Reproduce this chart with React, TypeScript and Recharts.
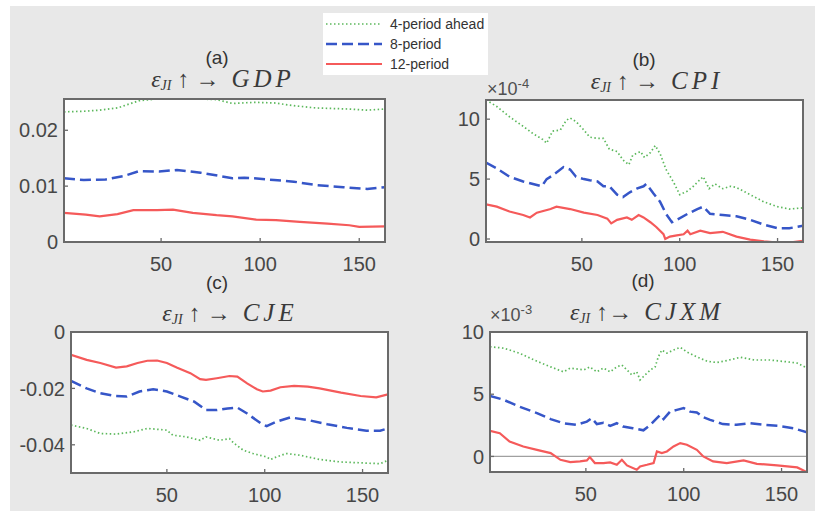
import React from 'react';
import { LineChart, Line, XAxis, YAxis, ReferenceLine, CartesianGrid } from 'recharts';

type P = [number, number];

const xDomain: [number, number] = [1, 163];
const xTicks = [50, 100, 150];
const seriesNames = ['4-period ahead', '8-period', '12-period'];

// (a) GDP
const gdp4: P[] = [[1,0.0233],[11,0.0234],[19,0.0236],[28,0.0240],[33,0.0246],[39,0.0253],[48,0.0256],[61,0.0257],[78,0.0255],[86,0.0248],[97,0.0250],[107,0.0249],[117,0.0244],[128,0.0240],[145,0.0238],[154,0.0236],[163,0.0238]];
const gdp8: P[] = [[1,0.0114],[11,0.0111],[22,0.0112],[31,0.0118],[39,0.0127],[49,0.0126],[58,0.0129],[70,0.0124],[80,0.0118],[86,0.0114],[92,0.0115],[97,0.0114],[107,0.0111],[117,0.0108],[128,0.0102],[142,0.0098],[154,0.0095],[163,0.0098]];
const gdp12: P[] = [[1,0.0052],[12,0.0049],[19,0.0046],[28,0.0050],[36,0.0057],[48,0.0057],[56,0.0058],[66,0.0052],[78,0.0048],[86,0.0046],[98,0.0040],[108,0.0039],[120,0.0036],[134,0.0033],[145,0.0030],[150,0.0027],[163,0.0028]];
const gdpTicks = [0, 0.01, 0.02];
const gdpDomain: [number, number] = [0, 0.0256];

// (b) CPI, in units of 1e-4
const cpi4: P[] = [[1,11.6],[6.5,11.06],[13,10.2],[20,9.4],[25,8.8],[30,8.3],[32,8.0],[35,9.0],[39,9.1],[42,9.9],[44,10.1],[47,9.8],[51,9.1],[54,8.5],[58,8.4],[61,8.4],[64,7.5],[68,7.3],[71,6.6],[74,6.2],[76,7.0],[80,7.3],[82,6.8],[85,7.2],[87.5,7.8],[90,7.1],[93,5.8],[97,4.7],[100,3.7],[104,4.0],[107,4.4],[110,4.9],[112,5.2],[115,4.2],[118,4.6],[122,4.2],[126,4.4],[129,4.3],[136,3.7],[143,3.1],[150,2.7],[156,2.5],[163,2.6]];
const cpi8: P[] = [[1,6.37],[6.5,5.9],[13,5.2],[20,4.8],[27,4.5],[29.5,4.4],[32,5.0],[35,5.3],[40.6,6.0],[44,5.8],[47,5.2],[51,5.0],[54,4.9],[58,4.8],[61,4.4],[64,4.4],[68,3.7],[71,3.5],[74.5,3.9],[78,4.2],[81.5,4.4],[83,4.6],[86.6,3.8],[90,3.1],[93,2.1],[96,1.4],[98.5,1.6],[104,2.1],[109,2.5],[112,2.7],[115.5,2.1],[122,2.0],[129,1.9],[136,1.6],[143,1.2],[150,0.9],[156,0.9],[163,1.1]];
const cpi12: P[] = [[1,2.9],[6.5,2.7],[13,2.3],[20,2.0],[23.5,1.8],[27,2.2],[34,2.5],[37,2.7],[44,2.5],[51,2.2],[58,2.0],[63,1.7],[65,1.3],[68,1.6],[73,1.8],[75.5,1.6],[79,2.0],[81.5,1.8],[85,1.4],[88,1.0],[91.7,0.4],[92.6,0.0],[95,0.2],[98.5,0.3],[102,0.4],[104,0.7],[105.4,0.4],[110.5,0.7],[115.5,0.5],[122,0.6],[129,0.2],[136,-0.05],[143,-0.2],[150,-0.3],[156,-0.3],[163,-0.15]];
const cpiTicks = [0, 5, 10];
const cpiDomain: [number, number] = [-0.25, 11.6];
const cpiExponent = '-4';

// (c) CJE
const cje4: P[] = [[1,-0.0330],[9,-0.0342],[16,-0.0360],[24,-0.0362],[33,-0.0354],[40,-0.0342],[50,-0.0348],[53,-0.0366],[60,-0.0372],[67,-0.0384],[70,-0.0372],[77,-0.0384],[82,-0.0378],[84,-0.0393],[89,-0.0419],[94,-0.0431],[101,-0.0443],[103,-0.0452],[106,-0.0443],[111,-0.0431],[118,-0.0437],[128,-0.0452],[139,-0.0461],[149,-0.0464],[159,-0.0467],[163,-0.0455]];
const cje8: P[] = [[1,-0.0173],[9,-0.0200],[16,-0.0217],[24,-0.0227],[29.5,-0.0229],[36,-0.0211],[43,-0.0203],[50,-0.0211],[57,-0.0229],[64,-0.0247],[70,-0.0277],[75.5,-0.0277],[81,-0.0271],[86,-0.0268],[91,-0.0289],[98,-0.0324],[101,-0.0334],[106,-0.0318],[113,-0.0303],[122,-0.0312],[132,-0.0327],[142,-0.0340],[152,-0.0350],[159,-0.0350],[163,-0.0342]];
const cje12: P[] = [[1,-0.0081],[9,-0.0099],[16,-0.0110],[24,-0.0126],[29.5,-0.0122],[35,-0.0110],[40,-0.0102],[45,-0.0101],[50,-0.0110],[55,-0.0126],[62,-0.0146],[67,-0.0167],[70,-0.0170],[75.5,-0.0164],[82,-0.0156],[86,-0.0158],[91,-0.0182],[96,-0.0203],[99,-0.0211],[103,-0.0208],[108,-0.0196],[115,-0.0191],[122,-0.0194],[128,-0.0200],[139,-0.0215],[149,-0.0227],[157,-0.0232],[163,-0.0221]];
const cjeTicks = [-0.04, -0.02, 0];
const cjeDomain: [number, number] = [-0.05, 0];

// (d) CJXM, in units of 1e-3
const cjxm4: P[] = [[1,8.82],[8,8.7],[16,8.3],[25,7.65],[32,7.2],[38.5,6.8],[42,7.1],[49,6.95],[52,7.2],[55.6,6.8],[59,7.1],[62.4,6.8],[65.8,7.2],[68.4,7.35],[71,6.95],[73.5,6.55],[76,6.8],[77.7,6.15],[80.3,6.55],[83,6.95],[85.4,7.2],[87,8.0],[88.8,8.55],[91.4,8.3],[94.8,8.55],[98.2,8.77],[101.6,8.4],[106.7,8.0],[112,7.65],[117,7.55],[122,7.7],[129,7.97],[136,7.75],[144,7.75],[153,7.6],[158,7.5],[163,7.1]];
const cjxm8: P[] = [[1,4.87],[8,4.55],[16,4.0],[25,3.48],[32,3.0],[38.5,2.67],[45,2.54],[50.5,2.8],[53,3.07],[55.6,2.6],[59,2.7],[62.4,2.46],[65.8,2.67],[69,2.4],[74,2.27],[79.4,2.1],[83,2.54],[86.3,3.07],[88,3.34],[89.7,3.0],[93,3.6],[96.5,3.74],[100,3.88],[103.3,3.6],[106.7,3.53],[110,3.15],[113.5,2.94],[120,2.6],[127,2.54],[134,2.67],[141,2.54],[148,2.46],[156,2.27],[163,1.93]];
const cjxm12: P[] = [[1,2.06],[6,1.87],[11,1.2],[18,0.8],[25,0.53],[32,0.27],[37,-0.27],[42,-0.45],[47,-0.4],[50.5,-0.32],[52,-0.05],[54.6,-0.53],[59,-0.53],[62.4,-0.48],[65.8,-0.67],[68.4,-0.27],[71,-0.72],[76,-1.07],[77.7,-0.8],[81.2,-0.67],[84.6,-0.53],[86.3,0.4],[88.8,0.27],[91.4,0.4],[94.8,0.8],[98.2,1.07],[101.6,0.94],[106.7,0.53],[110,0.0],[115,-0.4],[122,-0.53],[130.6,-0.32],[137.4,-0.59],[147.7,-0.72],[158,-0.88],[163,-1.26]];
const cjxmTicks = [0, 5, 10];
const cjxmDomain: [number, number] = [-1.25, 10];
const cjxmExponent = '-3';

const colors = ['#5cb85c', '#3656c8', '#f55a5a'];
const dashes = ['1.5 2.5', '11 5', undefined];
const widths = [1.7, 2.5, 2.2];

const toRows = (pts: P[]) => pts.map(([x, y]) => ({ x, y }));

const AXIS = '#6a6a6a';
const TICK_TEXT = { fill: '#474747', fontSize: 20, fontFamily: '"Liberation Sans", Arial, sans-serif' };

type PanelProps = {
  plotLeft: number; plotTop: number; plotW: number; plotH: number;
  domain: [number, number]; ticks: number[];
  series: P[][]; fmt: (v: number) => string; zeroLine?: boolean;
};

function Panel({ plotLeft, plotTop, plotW, plotH, domain, ticks, series, fmt, zeroLine }: PanelProps) {
  const W = plotW + 65;
  const H = plotH + 55;
  return (
    <>
      <div style={{ position: 'absolute', left: plotLeft - 60, top: plotTop - 15 }}>
        <LineChart width={W} height={H} margin={{ top: 15, right: 5, left: 0, bottom: 0 }}>
          <CartesianGrid fill="#ffffff" horizontal={false} vertical={false} />
          <XAxis type="number" dataKey="x" domain={xDomain} ticks={xTicks} allowDataOverflow
            height={40} axisLine={false} tickSize={-4} tickMargin={19}
            tick={TICK_TEXT} tickLine={{ stroke: AXIS, strokeWidth: 1.3 }} />
          <YAxis type="number" domain={domain} ticks={ticks} allowDataOverflow width={60}
            axisLine={false} tickSize={-4} tickMargin={10} tick={TICK_TEXT}
            tickLine={{ stroke: AXIS, strokeWidth: 1.3 }} tickFormatter={fmt} interval={0} />
          {zeroLine && <ReferenceLine y={0} stroke="#a0a0a0" strokeWidth={1.3} />}
          {series.map((s, i) => (
            <Line key={i} data={toRows(s)} dataKey="y" type="linear" stroke={colors[i]}
              strokeWidth={widths[i]} strokeDasharray={dashes[i]} dot={false}
              isAnimationActive={false} />
          ))}
        </LineChart>
      </div>
      <div style={{ position: 'absolute', left: plotLeft - 1, top: plotTop - 1, width: plotW + 2, height: plotH + 2,
        boxSizing: 'border-box', border: `2px solid ${AXIS}`, pointerEvents: 'none' }} />
    </>
  );
}

const serif = '"Liberation Serif", "DejaVu Serif", serif';

function Title({ cx, cy, target, tight }: { cx: number; cy: number; target: string; tight?: boolean }) {
  return (
    <div style={{ position: 'absolute', left: cx - 150, width: 300, top: cy - 14, height: 28, lineHeight: '28px',
      textAlign: 'center', fontFamily: serif, fontSize: 24, color: '#3a3a3a', whiteSpace: 'pre' }}>
      <i>ε</i><i style={{ fontSize: 14, position: 'relative', top: 3 }}>JI</i>
      {tight ? ' ↑→  ' : ' ↑ →  '}
      <i style={{ letterSpacing: 4, fontSize: 25 }}>{target}</i>
    </div>
  );
}

function Letter({ cx, cy, text }: { cx: number; cy: number; text: string }) {
  return (
    <div style={{ position: 'absolute', left: cx - 30, width: 60, top: cy - 11, height: 22, lineHeight: '22px',
      textAlign: 'center', fontFamily: '"Liberation Sans", Arial, sans-serif', fontSize: 19, color: '#333' }}>
      {text}
    </div>
  );
}

function Exponent({ left, top, exp }: { left: number; top: number; exp: string }) {
  return (
    <div style={{ position: 'absolute', left, top, fontFamily: '"Liberation Sans", Arial, sans-serif',
      fontSize: 18, color: '#505050', whiteSpace: 'pre', lineHeight: '18px' }}>
      ×10<span style={{ fontSize: 13, position: 'relative', top: -7 }}>{exp}</span>
    </div>
  );
}

function Legend() {
  const rowY = [11, 31, 51];
  return (
    <div style={{ position: 'absolute', left: 323, top: 13, width: 165, height: 62, background: '#fff' }}>
      <svg width={165} height={62}>
        {seriesNames.map((n, i) => (
          <g key={n}>
            <line x1={3} x2={59} y1={rowY[i]} y2={rowY[i]} stroke={colors[i]} strokeWidth={widths[i]}
              strokeDasharray={dashes[i]} />
            <text x={67} y={rowY[i] + 5} fontSize={14} fill="#333" fontFamily='"Liberation Sans", Arial, sans-serif'>{n}</text>
          </g>
        ))}
      </svg>
    </div>
  );
}

export default function App() {
  const plain = (v: number) => String(v);
  return (
    <div style={{ position: 'absolute', left: 0, top: 0, width: 815, height: 511, background: '#fff', overflow: 'hidden' }}>
      <div style={{ position: 'absolute', left: 10, top: 6, width: 805, height: 505, background: '#e8e8e8' }} />
      <Panel plotLeft={64} plotTop={99} plotW={321} plotH={143} domain={gdpDomain} ticks={gdpTicks}
        series={[gdp4, gdp8, gdp12]} fmt={plain} />
      <Panel plotLeft={486} plotTop={100} plotW={317} plotH={142} domain={cpiDomain} ticks={cpiTicks}
        series={[cpi4, cpi8, cpi12]} fmt={plain} />
      <Panel plotLeft={71} plotTop={332} plotW={317} plotH={141} domain={cjeDomain} ticks={cjeTicks}
        series={[cje4, cje8, cje12]} fmt={plain} />
      <Panel plotLeft={490} plotTop={332} plotW={317} plotH={140} domain={cjxmDomain} ticks={cjxmTicks}
        series={[cjxm4, cjxm8, cjxm12]} fmt={plain} zeroLine />
      <Letter cx={217} cy={58} text="(a)" />
      <Title cx={223} cy={79} target="GDP" />
      <Letter cx={644} cy={60} text="(b)" />
      <Title cx={657} cy={81} target="CPI" />
      <Exponent left={487} top={80} exp={cpiExponent} />
      <Letter cx={217} cy={283} text="(c)" />
      <Title cx={230} cy={313} target="CJE" />
      <Letter cx={643} cy={281} text="(d)" />
      <Title cx={647} cy={312} target="CJXM" tight />
      <Exponent left={490} top={306} exp={cjxmExponent} />
      <Legend />
    </div>
  );
}
